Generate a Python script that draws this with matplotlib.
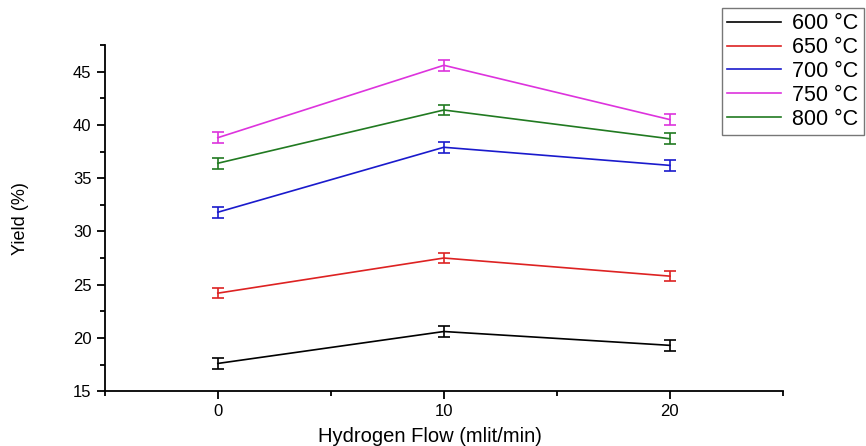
import matplotlib
matplotlib.use('Agg')
import matplotlib.pyplot as plt
from matplotlib.lines import Line2D
from matplotlib.ticker import MultipleLocator

plt.rcParams['font.family'] = ['Liberation Sans', 'DejaVu Sans']

# hydrogen flow (mlit/min)
flow = [0, 10, 20]

# yield (%) per temperature
y600 = [17.6, 20.6, 19.3]
y650 = [24.2, 27.5, 25.8]
y700 = [31.8, 37.9, 36.2]
y750 = [38.8, 45.6, 40.5]
y800 = [36.4, 41.4, 38.7]
err = [0.5, 0.5, 0.5]

labels = ['600 °C', '650 °C', '700 °C', '750 °C', '800 °C']
colors = ['#000000', '#dd2222', '#1a1acc', '#dd33dd', '#217a21']

fig = plt.figure(figsize=(8.66, 4.46), dpi=100)
ax = fig.add_axes([0.121, 0.123, 0.783, 0.776])

handles = []
for yv, lab, c in zip([y600, y650, y700, y750, y800], labels, colors):
    ax.errorbar(flow, yv, yerr=err, color=c, lw=1.2, capsize=4.5,
                capthick=1.2, elinewidth=1.2)
    handles.append(Line2D([], [], color=c, lw=1.2, label=lab))

ax.set_xlim(-5, 25)
ax.set_ylim(15, 47.5)
ax.xaxis.set_major_locator(MultipleLocator(10))
ax.xaxis.set_minor_locator(MultipleLocator(5))
ax.yaxis.set_major_locator(MultipleLocator(5))
ax.yaxis.set_minor_locator(MultipleLocator(2.5))
ax.spines['top'].set_visible(False)
ax.spines['right'].set_visible(False)
ax.spines['left'].set_linewidth(1.3)
ax.spines['bottom'].set_linewidth(1.3)
ax.tick_params(which='major', direction='out', length=6, width=1.3, labelsize=12)
ax.tick_params(which='minor', direction='out', length=3.5, width=1.3)

ax.set_xlabel('Hydrogen Flow (mlit/min)', fontsize=14.5)
ax.xaxis.set_label_coords(0.479, -0.13)
ax.xaxis.label.set_va('center')
ax.set_ylabel('Yield (%)', fontsize=13, labelpad=32)

leg = fig.legend(handles=handles, loc='upper left',
                 bbox_to_anchor=(722 / 866, 1 - 8 / 446), fontsize=15.5,
                 handlelength=2.5, labelspacing=0.13, fancybox=False,
                 framealpha=1, borderpad=0.25, handletextpad=0.5,
                 borderaxespad=0)
leg.get_frame().set_edgecolor('#777777')
leg.get_frame().set_linewidth(1.0)

fig.savefig('out.png', dpi=100)
